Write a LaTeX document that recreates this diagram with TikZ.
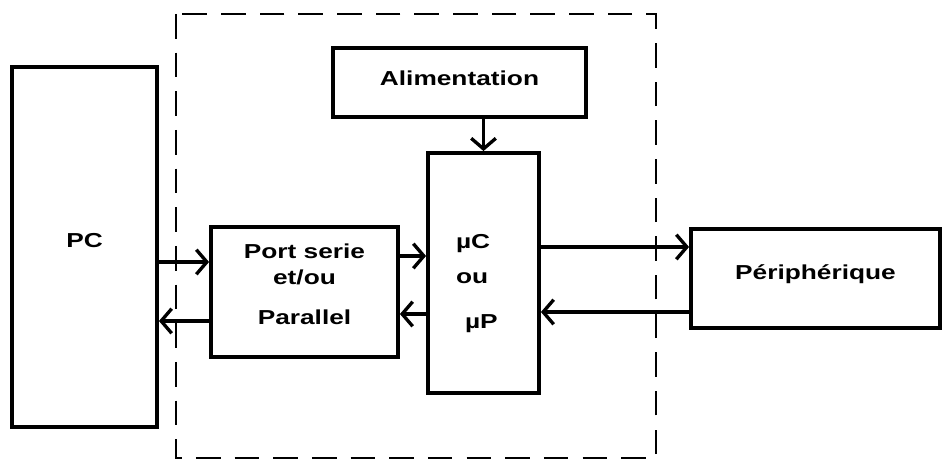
\documentclass[tikz,border=0pt]{standalone}
\usepackage{fontspec}
\setmainfont{Liberation Sans}[FakeStretch=1.3]
\usepackage{tikz}
\usetikzlibrary{arrows.meta, positioning}

\begin{document}
\begin{tikzpicture}[x=1cm, y=1cm,
    font=\fontsize{11.5}{13}\selectfont\bfseries,
    block/.style={draw, line width=2.2pt, rectangle, align=center, inner sep=0pt},
    link/.style={line width=1.9pt, -{Straight Barb[length=6pt, width=14pt, line width=1.9pt]}},
    frame/.style={line width=1.5pt, dash pattern=on 14pt off 8pt}]
   \useasboundingbox (0,0) rectangle (18.84,-9.22);
   \node[block, minimum width=2.9cm, minimum height=7.2cm, text height=8.2pt, text depth=8pt] (pc) at (1.69,-4.94) {PC};
   \node[block, minimum width=5.06cm, minimum height=1.38cm, text height=8.4pt, text depth=4.5pt] (alim) at (9.19,-1.65) {Alimentation};
   \node[block, minimum width=2.22cm, minimum height=4.8cm, text width=1.1cm, inner xsep=0.56cm, align=left] (mc) at (9.67,-5.46)
      {\rule{0pt}{20pt}µC\\[7pt]ou\\[13pt]\hspace{0.18cm}µP};
   \node[block, minimum width=3.74cm, minimum height=2.6cm] (port) at (6.09,-5.84)
      {Port serie\\[2pt]et/ou\\[10pt]Parallel\\[-4pt]};
   \node[block, minimum width=4.98cm, minimum height=1.98cm, text height=8.4pt, text depth=7pt] (per) at (16.31,-5.57) {Périphérique};
   \draw[frame] (3.52,-0.28) rectangle (13.12,-9.16);
   \draw[link] (alim.south -| mc.north) -- (mc.north);
   \draw[link] (pc.east |- 0,-5.24) -- (port.west |- 0,-5.24);
   \draw[link] (port.west |- 0,-6.42) -- (pc.east |- 0,-6.42);
   \draw[link] (port.east |- 0,-5.12) -- (mc.west |- 0,-5.12);
   \draw[link] (mc.west |- 0,-6.28) -- (port.east |- 0,-6.28);
   \draw[link] (mc.east |- 0,-4.94) -- (per.west |- 0,-4.94);
   \draw[link] (per.west |- 0,-6.24) -- (mc.east |- 0,-6.24);
\end{tikzpicture}
\end{document}
